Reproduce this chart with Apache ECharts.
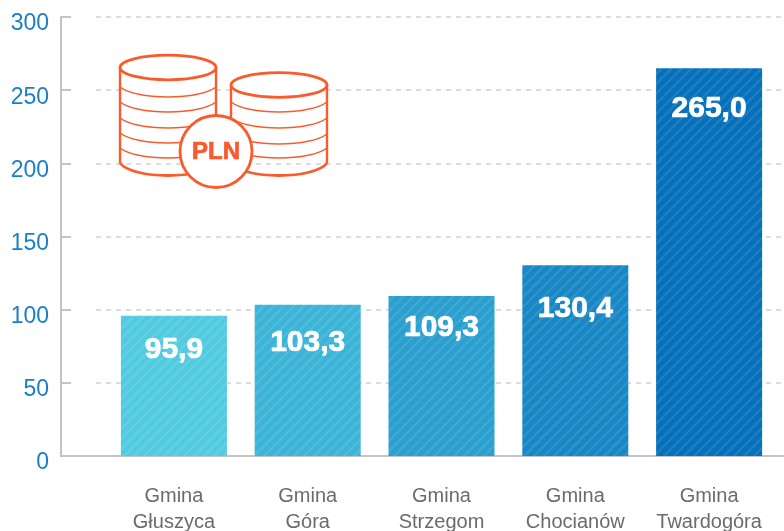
<!DOCTYPE html>
<html><head><meta charset="utf-8">
<style>html,body{margin:0;padding:0;background:#fff}#c{width:784px;height:531px}</style>
<script src="https://cdn.jsdelivr.net/npm/echarts@6/dist/echarts.min.js"></script>
</head><body><div id="c"></div>
<script>
const categories = ['Gmina\nGłuszyca','Gmina\nGóra','Gmina\nStrzegom','Gmina\nChocianów','Gmina\nTwardogóra'];
const values = [95.9,103.3,109.3,130.4,265.0];
const barColors = ['#50cbe0','#3bb4d8','#2a9fd0','#1887c5','#0570bb'];
const labelDrop = [19,23,17,29,26];
const yTicks = [0,50,100,150,200,250,300];

const orange = '#f95b2d';
const chart = echarts.init(document.getElementById('c'), null, {renderer:'canvas'});
const fmt = v => v.toFixed(1).replace('.',',');
const plotTop = 17, plotH = 439;
const hatch = base => {
  const s = 10, c = document.createElement('canvas');
  c.width = c.height = s;
  const g = c.getContext('2d');
  g.fillStyle = base; g.fillRect(0,0,s,s);
  g.strokeStyle = 'rgba(255,255,255,0.1)'; g.lineWidth = 2.4;
  [[-s,s,s,-s],[0,s,s,0],[0,2*s,2*s,0]].forEach(([a,b,d,e]) => { g.beginPath(); g.moveTo(a,b); g.lineTo(d,e); g.stroke(); });
  return {image:c, repeat:'repeat'};
};
const stack = (x, cy, ys) => {
  const r = x + 96, m = x + 48, items = [];
  const bez = (x1,y1,c1x,c1y,c2x,c2y,x2,y2,lw,fill) => items.push({type:'bezierCurve', z:10,
    shape:{x1,y1,cpx1:c1x,cpy1:c1y,cpx2:c2x,cpy2:c2y,x2,y2}, style:{fill:fill||null, stroke:orange, lineWidth:lw}});
  items.push({type:'rect', z:10, shape:{x, y:cy, width:96, height:163-cy}, style:{fill:'#fff', stroke:null}});
  bez(x,163,x+6,171,x+26,175.5,m,175.5,2.8,'#fff');
  bez(m,175.5,r-26,175.5,r-6,171,r,163,2.8,'#fff');
  items.push({type:'line', z:10, shape:{x1:x,y1:cy,x2:x,y2:163}, style:{stroke:orange, lineWidth:2.4}});
  items.push({type:'line', z:10, shape:{x1:r,y1:cy,x2:r,y2:163}, style:{stroke:orange, lineWidth:2.4}});
  items.push({type:'ellipse', z:10, shape:{cx:m, cy, rx:48, ry:12.3}, style:{fill:'#fff', stroke:orange, lineWidth:2.8}});
  ys.forEach(y => {
    bez(x,y,x+8,y+6,x+26,y+10,m,y+10,1.5);
    bez(m,y+10,r-26,y+10,r-8,y+6,r,y,1.5);
  });
  return items;
};
const gridBase = {top:plotTop, height:plotH, outerBoundsMode:'none'};
chart.setOption({
  animation:false,
  grid:[
    {...gridBase, left:61, right:0},
    {...gridBase, left:96, right:0},
    {...gridBase, left:107, width:669}
  ],
  xAxis:[
    {gridIndex:0, type:'category', data:[''], axisLine:{show:true, lineStyle:{color:'#c4c4c4', width:2}}, axisTick:{show:false}, axisLabel:{show:false}},
    {gridIndex:1, type:'category', data:[''], show:false},
    {gridIndex:2, type:'category', data:categories, axisLine:{show:false}, axisTick:{show:false},
     axisLabel:{color:'#6b6b6b', fontFamily:'Liberation Sans', fontSize:20, lineHeight:26, margin:27, interval:0}}
  ],
  yAxis:[
    {gridIndex:0, type:'value', min:0, max:300, interval:50,
     axisLine:{show:true, lineStyle:{color:'#c4c4c4', width:2}},
     axisTick:{show:true, inside:true, length:10, lineStyle:{color:'#c4c4c4', width:2}},
     splitLine:{show:false},
     axisLabel:{color:'#1a7fc8', fontFamily:'Liberation Sans', fontSize:23, margin:12, verticalAlign:'top', lineHeight:14,
       formatter:v => yTicks.includes(v) ? String(v) : ''}},
    {gridIndex:1, type:'value', min:0, max:300, interval:50, axisLine:{show:false}, axisTick:{show:false}, axisLabel:{show:false},
     splitLine:{show:true, lineStyle:{color:'#d4d4d4', width:1.6, type:[5,5]}}},
    {gridIndex:2, type:'value', min:0, max:300, interval:50, show:false, splitLine:{show:false}}
  ],
  series:[{
    type:'bar', xAxisIndex:2, yAxisIndex:2, barWidth:106, z:3,
    data: values.map((v,i)=>({
      value:v,
      itemStyle:{color:hatch(barColors[i])},
      label:{offset:[0,labelDrop[i]]}
    })),
    label:{show:true, position:'insideTop', distance:0, color:'#fff', fontFamily:'Liberation Sans', fontWeight:'bold', fontSize:30,
      textBorderColor:'#fff', textBorderWidth:0.7, formatter:p=>fmt(p.value)}
  }],
  graphic:{elements:[
    ...stack(231,85,[102,118,134,148]),
    ...stack(120,67.5,[87,102,118,133,148]),
    {type:'circle', z:11, shape:{cx:216, cy:151.5, r:36}, style:{fill:'#fff', stroke:orange, lineWidth:2.8}},
    {type:'text', z:12, x:216, y:152, style:{text:'PLN', fill:orange, stroke:orange, lineWidth:0.7, font:'bold 24px "Liberation Sans"', textAlign:'center', textVerticalAlign:'middle'}}
  ]}
});
</script></body></html>
